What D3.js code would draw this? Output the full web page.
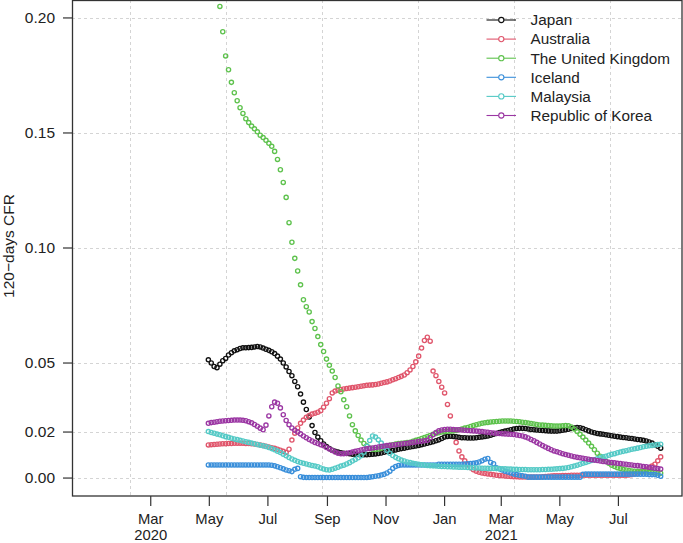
<!DOCTYPE html>
<html><head><meta charset="utf-8">
<script src="https://cdn.jsdelivr.net/npm/d3@7"></script>
<style>
body{margin:0;background:#fff}
svg{display:block}
text{font-family:"Liberation Sans",Arial,Helvetica,sans-serif;fill:#222}
</style>
</head><body>
<svg id="chart" width="683" height="543"></svg>
<script>
// ---------- data (one value every 3 days, starting 2020-04-30) ----------
const startDate = "2020-04-30";
const stepDays = 3;
const countries = ["Japan","Australia","The United Kingdom","Iceland","Malaysia","Republic of Korea"];
const colors = ["#111111","#E0566C","#5EC24D","#3A8FDA","#55CAC6","#9B37A3"];

const japan = [
0.0514,0.0500,0.0485,0.0480,0.0495,0.0510,0.0520,0.0535,0.0545,0.0553,
0.0558,0.0563,0.0566,0.0566,0.0567,0.0568,0.0570,0.0572,0.0570,0.0565,
0.0560,0.0555,0.0549,0.0541,0.0530,0.0517,0.0500,0.0483,0.0463,0.0445,
0.0420,0.0397,0.0365,0.0330,0.0298,0.0265,0.0228,0.0198,0.0178,0.0162,
0.0148,0.0137,0.0128,0.0121,0.0116,0.0113,0.0110,0.0108,0.0107,0.0106,
0.0104,0.0103,0.0102,0.0101,0.0101,0.0101,0.0102,0.0104,0.0105,0.0107,
0.0109,0.0112,0.0115,0.0117,0.0120,0.0122,0.0125,0.0128,0.0130,0.0133,
0.0135,0.0137,0.0139,0.0142,0.0145,0.0148,0.0151,0.0155,0.0158,0.0162,
0.0166,0.0172,0.0178,0.0181,0.0182,0.0181,0.0179,0.0177,0.0175,0.0175,
0.0174,0.0174,0.0174,0.0175,0.0177,0.0179,0.0181,0.0183,0.0186,0.0190,
0.0194,0.0198,0.0201,0.0204,0.0207,0.0210,0.0213,0.0215,0.0216,0.0216,
0.0215,0.0213,0.0211,0.0210,0.0209,0.0208,0.0207,0.0206,0.0205,0.0204,
0.0204,0.0204,0.0206,0.0208,0.0210,0.0212,0.0215,0.0218,0.0220,0.0219,
0.0215,0.0210,0.0205,0.0200,0.0197,0.0194,0.0192,0.0190,0.0188,0.0186,
0.0184,0.0182,0.0180,0.0178,0.0176,0.0175,0.0173,0.0172,0.0170,0.0168,
0.0166,0.0164,0.0161,0.0157,0.0152,0.0145,0.0138,0.0130];

const australia = [
0.0144,0.0145,0.0146,0.0147,0.0148,0.0149,0.0149,0.0150,0.0150,0.0151,
0.0151,0.0151,0.0151,0.0150,0.0150,0.0149,0.0148,0.0146,0.0144,0.0141,
0.0138,0.0135,0.0132,0.0129,0.0125,0.0121,0.0116,0.0111,0.0125,0.0165,
0.0195,0.0218,0.0238,0.0252,0.0264,0.0272,0.0278,0.0282,0.0286,0.0293,
0.0308,0.0325,0.0345,0.0370,0.0378,0.0382,0.0385,0.0387,0.0389,0.0391,
0.0393,0.0395,0.0397,0.0399,0.0401,0.0403,0.0404,0.0405,0.0407,0.0409,
0.0412,0.0415,0.0418,0.0422,0.0427,0.0432,0.0437,0.0442,0.0448,0.0458,
0.0470,0.0485,0.0505,0.0530,0.0565,0.0598,0.0612,0.0595,0.0465,0.0445,
0.0420,0.0395,0.0370,0.0320,0.0270,0.0210,0.0155,0.0118,0.0092,0.0075,
0.0058,0.0045,0.0036,0.0030,0.0025,0.0022,0.0020,0.0018,0.0016,0.0014,
0.0012,0.0011,0.0010,0.0009,0.0008,0.0007,0.0006,0.0006,0.0005,0.0005,
0.0005,0.0005,0.0005,0.0005,0.0005,0.0005,0.0006,0.0007,0.0008,0.0009,
0.0010,0.0010,0.0010,0.0011,0.0011,0.0011,0.0012,0.0012,0.0012,0.0012,
0.0012,0.0012,0.0012,0.0012,0.0012,0.0012,0.0012,0.0012,0.0012,0.0012,
0.0012,0.0012,0.0012,0.0012,0.0012,0.0012,0.0013,0.0015,0.0018,0.0022,
0.0027,0.0032,0.0037,0.0044,0.0052,0.0060,0.0075,0.0092];

const unitedKingdom = [
0.2450,0.2360,0.2250,0.2150,0.2050,0.1940,0.1835,0.1775,0.1720,0.1675,
0.1640,0.1610,0.1585,0.1562,0.1545,0.1530,0.1518,0.1505,0.1490,0.1480,
0.1468,0.1455,0.1442,0.1420,0.1385,0.1340,0.1285,0.1220,0.1110,0.1025,
0.0955,0.0900,0.0840,0.0775,0.0745,0.0722,0.0680,0.0650,0.0615,0.0580,
0.0550,0.0517,0.0490,0.0465,0.0437,0.0400,0.0375,0.0340,0.0310,0.0270,
0.0232,0.0205,0.0185,0.0165,0.0150,0.0140,0.0130,0.0125,0.0124,0.0125,
0.0130,0.0134,0.0138,0.0142,0.0145,0.0148,0.0150,0.0151,0.0152,0.0154,
0.0156,0.0160,0.0164,0.0168,0.0172,0.0176,0.0180,0.0185,0.0190,0.0194,
0.0197,0.0200,0.0202,0.0203,0.0204,0.0205,0.0207,0.0210,0.0213,0.0217,
0.0220,0.0224,0.0228,0.0232,0.0235,0.0238,0.0240,0.0242,0.0244,0.0245,
0.0246,0.0247,0.0248,0.0248,0.0248,0.0248,0.0247,0.0246,0.0245,0.0243,
0.0241,0.0239,0.0237,0.0235,0.0233,0.0231,0.0230,0.0229,0.0228,0.0227,
0.0226,0.0226,0.0226,0.0227,0.0228,0.0227,0.0222,0.0213,0.0202,0.0190,
0.0178,0.0165,0.0152,0.0138,0.0123,0.0108,0.0095,0.0083,0.0073,0.0064,
0.0056,0.0050,0.0045,0.0041,0.0038,0.0035,0.0033,0.0031,0.0030,0.0029,
0.0028,0.0027,0.0026,0.0025,0.0024,0.0023,0.0022,0.0021];

const iceland = [
0.0057,0.0057,0.0057,0.0057,0.0057,0.0057,0.0057,0.0057,0.0057,0.0057,
0.0057,0.0057,0.0057,0.0057,0.0057,0.0057,0.0057,0.0057,0.0057,0.0057,
0.0057,0.0057,0.0056,0.0053,0.0049,0.0045,0.0040,0.0035,0.0032,0.0028,
0.0038,0.0042,0.0006,0.0003,0.0002,0.0002,0.0002,0.0002,0.0002,0.0002,
0.0002,0.0002,0.0002,0.0002,0.0002,0.0002,0.0002,0.0002,0.0002,0.0002,
0.0002,0.0002,0.0002,0.0002,0.0002,0.0002,0.0004,0.0006,0.0008,0.0010,
0.0013,0.0016,0.0022,0.0030,0.0042,0.0050,0.0055,0.0057,0.0057,0.0057,
0.0057,0.0057,0.0057,0.0057,0.0057,0.0057,0.0057,0.0057,0.0057,0.0057,
0.0060,0.0060,0.0060,0.0060,0.0060,0.0060,0.0060,0.0060,0.0060,0.0061,
0.0062,0.0063,0.0064,0.0066,0.0070,0.0075,0.0082,0.0085,0.0068,0.0062,
0.0045,0.0040,0.0035,0.0030,0.0026,0.0022,0.0018,0.0015,0.0012,0.0010,
0.0008,0.0004,0.0004,0.0004,0.0004,0.0004,0.0004,0.0004,0.0004,0.0004,
0.0004,0.0004,0.0004,0.0004,0.0004,0.0004,0.0004,0.0004,0.0004,0.0004,
0.0016,0.0017,0.0017,0.0017,0.0017,0.0017,0.0017,0.0017,0.0017,0.0017,
0.0017,0.0017,0.0017,0.0017,0.0017,0.0017,0.0017,0.0017,0.0017,0.0017,
0.0017,0.0017,0.0017,0.0015,0.0015,0.0015,0.0012,0.0008];

const malaysia = [
0.0202,0.0198,0.0195,0.0191,0.0188,0.0184,0.0180,0.0177,0.0173,0.0170,
0.0167,0.0164,0.0161,0.0158,0.0155,0.0152,0.0149,0.0146,0.0143,0.0140,
0.0137,0.0133,0.0128,0.0123,0.0117,0.0111,0.0104,0.0097,0.0089,0.0083,
0.0077,0.0072,0.0068,0.0064,0.0061,0.0058,0.0055,0.0052,0.0049,0.0044,
0.0039,0.0036,0.0035,0.0038,0.0043,0.0047,0.0052,0.0056,0.0061,0.0067,
0.0074,0.0081,0.0088,0.0097,0.0112,0.0138,0.0163,0.0183,0.0178,0.0166,
0.0152,0.0135,0.0120,0.0108,0.0098,0.0090,0.0084,0.0078,0.0074,0.0070,
0.0067,0.0064,0.0062,0.0060,0.0058,0.0057,0.0055,0.0054,0.0053,0.0052,
0.0051,0.0050,0.0050,0.0049,0.0049,0.0048,0.0048,0.0047,0.0047,0.0047,
0.0046,0.0045,0.0045,0.0044,0.0044,0.0043,0.0043,0.0042,0.0042,0.0042,
0.0041,0.0041,0.0040,0.0040,0.0039,0.0039,0.0038,0.0038,0.0037,0.0037,
0.0037,0.0036,0.0036,0.0036,0.0036,0.0036,0.0037,0.0037,0.0038,0.0038,
0.0039,0.0040,0.0041,0.0042,0.0044,0.0046,0.0049,0.0052,0.0056,0.0060,
0.0064,0.0068,0.0072,0.0076,0.0080,0.0084,0.0088,0.0092,0.0095,0.0099,
0.0103,0.0106,0.0110,0.0113,0.0116,0.0119,0.0122,0.0125,0.0127,0.0130,
0.0133,0.0136,0.0138,0.0140,0.0142,0.0144,0.0146,0.0147];

const korea = [
0.0238,0.0241,0.0243,0.0245,0.0247,0.0248,0.0249,0.0250,0.0251,0.0252,
0.0252,0.0252,0.0251,0.0249,0.0245,0.0240,0.0233,0.0225,0.0217,0.0210,
0.0230,0.0270,0.0310,0.0330,0.0325,0.0305,0.0275,0.0250,0.0232,0.0218,
0.0208,0.0200,0.0192,0.0183,0.0175,0.0168,0.0161,0.0155,0.0150,0.0145,
0.0140,0.0133,0.0126,0.0120,0.0113,0.0108,0.0106,0.0106,0.0108,0.0110,
0.0113,0.0116,0.0119,0.0122,0.0125,0.0127,0.0129,0.0131,0.0133,0.0135,
0.0137,0.0139,0.0141,0.0142,0.0144,0.0145,0.0147,0.0148,0.0150,0.0151,
0.0153,0.0155,0.0157,0.0159,0.0160,0.0162,0.0164,0.0175,0.0188,0.0198,
0.0205,0.0209,0.0211,0.0212,0.0212,0.0211,0.0210,0.0210,0.0209,0.0208,
0.0207,0.0206,0.0205,0.0204,0.0203,0.0202,0.0200,0.0199,0.0197,0.0196,
0.0195,0.0194,0.0193,0.0192,0.0191,0.0190,0.0189,0.0187,0.0185,0.0183,
0.0179,0.0174,0.0168,0.0162,0.0155,0.0148,0.0141,0.0135,0.0129,0.0123,
0.0118,0.0114,0.0110,0.0106,0.0102,0.0099,0.0096,0.0093,0.0090,0.0088,
0.0086,0.0084,0.0082,0.0080,0.0078,0.0076,0.0074,0.0072,0.0071,0.0069,
0.0067,0.0066,0.0064,0.0063,0.0061,0.0060,0.0058,0.0057,0.0055,0.0054,
0.0052,0.0050,0.0049,0.0047,0.0045,0.0043,0.0041,0.0039];

const seriesValues = [japan, australia, unitedKingdom, iceland, malaysia, korea];

const yTicks = [0, 0.02, 0.05, 0.10, 0.15, 0.20];
const yTickLabels = ["0.00","0.02","0.05","0.10","0.15","0.20"];
const xTickDates = ["2020-03-01","2020-05-01","2020-07-01","2020-09-01","2020-11-01","2021-01-01","2021-03-01","2021-05-01","2021-07-01"];
const xTickLabels = [["Mar","2020"],["May"],["Jul"],["Sep"],["Nov"],["Jan"],["Mar","2021"],["May"],["Jul"]];
const gridDayNumbers = [18300,18400,18500,18600,18700,18800]; // days since 1970-01-01
const yLabel = "120\u2212days CFR";

// ---------- layout ----------
const svg = d3.select("#chart");
const L = 72, R = 682, T = 0, B = 496;

const x = d3.scaleUtc()
  .domain([new Date(Date.UTC(2019,11,10)), new Date(Date.UTC(2021,8,5,5))])
  .range([L, R]);
const y = d3.scaleLinear().domain([-0.0078, 0.2078]).range([B, T]);

svg.append("defs").append("clipPath").attr("id","plotclip")
  .append("rect").attr("x",L).attr("y",T).attr("width",R-L).attr("height",B-T);

// grid
const grid = svg.append("g").attr("stroke","#d4d4d4").attr("stroke-dasharray","3,3").attr("stroke-width",1);
gridDayNumbers.forEach(n => {
  const xv = Math.round(x(new Date(n*86400000))) + 0.5;
  grid.append("line").attr("x1",xv).attr("x2",xv).attr("y1",T).attr("y2",B);
});
yTicks.forEach(v => {
  const yv = Math.round(y(v)) + 0.5;
  grid.append("line").attr("x1",L).attr("x2",R).attr("y1",yv).attr("y2",yv);
});

// series
const plot = svg.append("g").attr("clip-path","url(#plotclip)");
const t0 = new Date(startDate + "T00:00:00Z");
seriesValues.forEach((vals, k) => {
  const pts = vals.map((v, i) => ({d: d3.utcDay.offset(t0, stepDays*i), v}));
  plot.append("g").selectAll("circle").data(pts).join("circle")
    .attr("cx", p => x(p.d)).attr("cy", p => y(p.v)).attr("r", 2.1)
    .attr("fill","none").attr("stroke", colors[k]).attr("stroke-width", 1.35);
});

// box
svg.append("rect").attr("x",L+0.5).attr("y",T+0.5).attr("width",R-L-0.5).attr("height",B-T-0.5)
  .attr("fill","none").attr("stroke","#333").attr("stroke-width",1.3);

// y axis
const ya = svg.append("g");
yTicks.forEach((v, i) => {
  const yv = y(v);
  ya.append("line").attr("x1",63).attr("x2",L).attr("y1",yv).attr("y2",yv).attr("stroke","#333").attr("stroke-width",1.2);
  ya.append("text").attr("x",55).attr("y",yv).attr("dy","0.35em").attr("text-anchor","end")
    .attr("font-size","15.5px").text(yTickLabels[i]);
});
svg.append("text").attr("transform","translate(14,246) rotate(-90)").attr("text-anchor","middle")
  .attr("font-size","15.5px").text(yLabel);

// x axis
const xa = svg.append("g");
xTickDates.forEach((ds, i) => {
  const xv = x(new Date(ds + "T00:00:00Z"));
  xa.append("line").attr("x1",xv).attr("x2",xv).attr("y1",B).attr("y2",B+10).attr("stroke","#333").attr("stroke-width",1.2);
  xTickLabels[i].forEach((s, j) => {
    xa.append("text").attr("x",xv).attr("y",523.5 + j*16.6).attr("text-anchor","middle")
      .attr("font-size","14.8px").text(s);
  });
});

// legend
const lg = svg.append("g");
countries.forEach((c, i) => {
  const ly = 20 + i*19.1;
  lg.append("line").attr("x1",486.5).attr("x2",516).attr("y1",ly).attr("y2",ly).attr("stroke",colors[i]).attr("stroke-width",1.1);
  lg.append("circle").attr("cx",501.3).attr("cy",ly).attr("r",2.6).attr("fill","#fff").attr("stroke",colors[i]).attr("stroke-width",1.1);
  lg.append("text").attr("x",530.5).attr("y",ly).attr("dy","0.35em").attr("font-size","15.3px").text(c);
});
</script>
</body></html>
